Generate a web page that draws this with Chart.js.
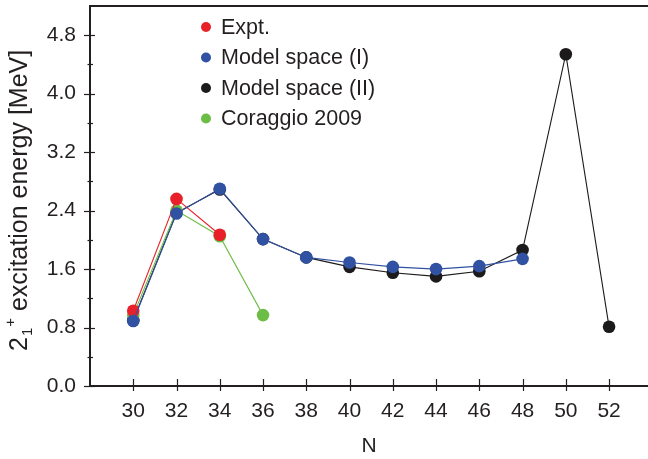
<!DOCTYPE html>
<html>
<head>
<meta charset="utf-8">
<script src="https://cdn.jsdelivr.net/npm/chart.js@4/dist/chart.umd.min.js"></script>
<style>
  html, body { margin: 0; padding: 0; background: #fff; }
  #wrap { width: 648px; height: 459px; }
</style>
</head>
<body>
<div id="wrap"><canvas id="chart" width="648" height="459"></canvas></div>
<script>
// ===============================
// DATA
// ===============================
const exptN = [30, 32, 34];
const exptE = [1.03, 2.56, 2.07];

const model1N = [30, 32, 34, 36, 38, 40, 42, 44, 46, 48];
const model1E = [0.89, 2.36, 2.70, 2.01, 1.76, 1.69, 1.63, 1.60, 1.64, 1.74];

const model2N = [30, 32, 34, 36, 38, 40, 42, 44, 46, 48, 50, 52];
const model2E = [0.90, 2.37, 2.69, 2.01, 1.76, 1.63, 1.55, 1.50, 1.57, 1.86, 4.54, 0.81];

const coraggioN = [30, 32, 34, 36];
const coraggioE = [0.97, 2.40, 2.05, 0.97];

const seriesLabels = ["Expt.", "Model space (I)", "Model space (II)", "Coraggio 2009"];

const xTicks = [30, 32, 34, 36, 38, 40, 42, 44, 46, 48, 50, 52];
const yTicks = [0.0, 0.8, 1.6, 2.4, 3.2, 4.0, 4.8];
const yMinorTicks = [0.4, 1.2, 2.0, 2.8, 3.6, 4.4];

// ===============================
// STYLE
// ===============================
const RED = "#e8202a";
const BLUE = "#3152a2";
const BLACK = "#1c1a1b";
const GREEN = "#6cbd45";
const AXIS = "#231f20";
const FONT = "'Liberation Sans', Arial, Helvetica, sans-serif";

const toPoints = (xs, ys) => xs.map((x, i) => ({ x: x, y: ys[i] }));

function series(label, xs, ys, color, order) {
  return {
    label: label,
    data: toPoints(xs, ys),
    borderColor: color,
    backgroundColor: color,
    pointBackgroundColor: color,
    pointBorderColor: color,
    borderWidth: 1.1,
    pointRadius: 6.3,
    pointBorderWidth: 0,
    tension: 0,
    order: order,
  };
}

// frame, ticks, legend and y title
const decor = {
  id: "decor",
  afterDraw(chart) {
    const ctx = chart.ctx;
    const area = chart.chartArea;
    const xs = chart.scales.x;
    const ys = chart.scales.y;
    ctx.save();
    ctx.strokeStyle = AXIS;

    // top frame line
    ctx.lineWidth = 2;
    ctx.beginPath();
    ctx.moveTo(area.left - 1, area.top);
    ctx.lineTo(chart.width, area.top);
    ctx.stroke();

    // y ticks
    ctx.lineWidth = 1.2;
    yTicks.forEach((v) => {
      const y = Math.round(ys.getPixelForValue(v)) + 0.5;
      ctx.beginPath();
      ctx.moveTo(area.left - 6, y);
      ctx.lineTo(area.left + 5, y);
      ctx.stroke();
    });
    yMinorTicks.forEach((v) => {
      const y = Math.round(ys.getPixelForValue(v)) + 0.5;
      ctx.beginPath();
      ctx.moveTo(area.left - 2.5, y);
      ctx.lineTo(area.left + 3, y);
      ctx.stroke();
    });

    // x ticks
    xTicks.forEach((v) => {
      const x = Math.round(xs.getPixelForValue(v)) + 0.5;
      ctx.beginPath();
      ctx.moveTo(x, area.bottom - 7);
      ctx.lineTo(x, area.bottom + 5);
      ctx.stroke();
    });

    // legend
    ctx.font = "21.5px " + FONT;
    ctx.textBaseline = "middle";
    ctx.textAlign = "left";
    const colors = [RED, BLUE, BLACK, GREEN];
    seriesLabels.forEach((label, i) => {
      const y = 27 + i * 30.5;
      ctx.fillStyle = colors[i];
      ctx.beginPath();
      ctx.arc(206, y, 5, 0, Math.PI * 2);
      ctx.fill();
      ctx.fillStyle = AXIS;
      ctx.fillText(label, 221, y + 1);
    });

    // y axis title: 2_1^+ excitation energy [MeV]
    ctx.translate(27, 351);
    ctx.rotate(-Math.PI / 2);
    ctx.textBaseline = "alphabetic";
    ctx.fillStyle = AXIS;
    ctx.font = "25px " + FONT;
    ctx.fillText("2", 0, 0);
    let x = ctx.measureText("2").width + 1;
    ctx.font = "15px " + FONT;
    ctx.fillText("1", x, 5);
    x += ctx.measureText("1").width + 1;
    ctx.fillText("+", x, -12);
    x += ctx.measureText("+").width;
    ctx.font = "25px " + FONT;
    ctx.fillText(" excitation energy [MeV]", x, 0);

    ctx.restore();
  },
};

new Chart(document.getElementById("chart"), {
  type: "line",
  data: {
    datasets: [
      series(seriesLabels[0], exptN, exptE, RED, 1),
      series(seriesLabels[1], model1N, model1E, BLUE, 0),
      series(seriesLabels[2], model2N, model2E, BLACK, 3),
      series(seriesLabels[3], coraggioN, coraggioE, GREEN, 2),
    ],
  },
  options: {
    responsive: false,
    animation: false,
    layout: { autoPadding: false, padding: { top: 6, right: 0, left: 0, bottom: 0 } },
    plugins: {
      legend: { display: false },
      tooltip: { enabled: false },
    },
    scales: {
      x: {
        type: "linear",
        min: 28,
        max: 53.8,
        afterBuildTicks: (scale) => {
          scale.ticks = xTicks.map((v) => ({ value: v }));
        },
        afterFit: (scale) => {
          scale.height = 73;
          scale.paddingLeft = 0;
          scale.paddingRight = 0;
        },
        ticks: {
          autoSkip: false,
          maxRotation: 0,
          padding: 13,
          color: AXIS,
          font: { family: FONT, size: 21 },
          callback: (v) => String(v),
        },
        grid: { display: true, drawOnChartArea: false, drawTicks: false },
        border: { display: true, color: AXIS, width: 2 },
        title: {
          display: true,
          text: "N",
          color: AXIS,
          font: { family: FONT, size: 21 },
          padding: { top: 3, bottom: 0 },
        },
      },
      y: {
        min: 0,
        max: 5.2,
        afterBuildTicks: (scale) => {
          scale.ticks = yTicks.map((v) => ({ value: v }));
        },
        afterFit: (scale) => {
          scale.width = 90;
          scale.paddingTop = 0;
          scale.paddingBottom = 0;
        },
        ticks: {
          padding: 14,
          color: AXIS,
          font: { family: FONT, size: 21 },
          callback: (v) => v.toFixed(1),
        },
        grid: { display: true, drawOnChartArea: false, drawTicks: false },
        border: { display: true, color: AXIS, width: 2 },
      },
    },
  },
  plugins: [decor],
});
</script>
</body>
</html>
